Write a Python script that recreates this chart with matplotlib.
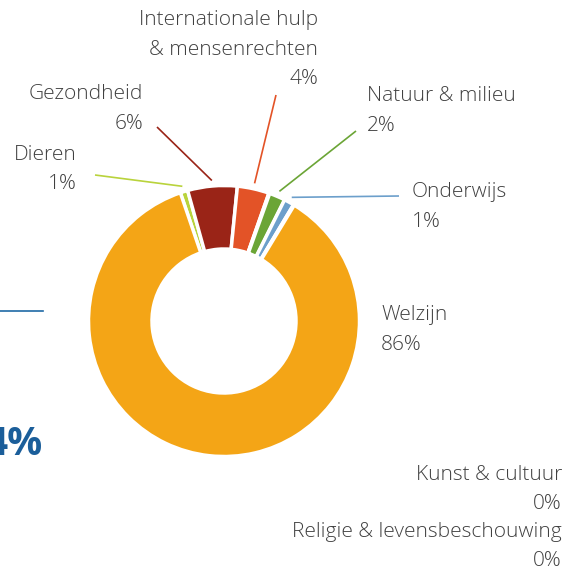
import numpy as np
import matplotlib
matplotlib.use("Agg")
import matplotlib.pyplot as plt

# data (alphabetical order, as in the source table)
categories = ["Dieren", "Gezondheid", "Internationale hulp & mensenrechten",
              "Kunst & cultuur", "Natuur & milieu", "Onderwijs",
              "Religie & levensbeschouwing", "Welzijn"]
shares = [0.9, 5.9, 3.8, 0.1, 1.9, 1.2, 0.1, 86.1]
colors = ["#b9d33c", "#9a2417", "#e35327", "#8c6bb1", "#6ba536", "#6c9fcb",
          "#c9c9c9", "#f4a516"]

# label layout (pixel coords, y from top): lines, x, baselines, ha, leader start
labels = {
    "Dieren": (["Dieren"], 77, [160, 189], "right", (95, 175)),
    "Gezondheid": (["Gezondheid"], 143, [99, 129], "right", (157, 127)),
    "Internationale hulp & mensenrechten": (["Internationale hulp", "& mensenrechten"], 318,
                                            [25, 55, 84], "right", (276, 95)),
    "Natuur & milieu": (["Natuur & milieu"], 367, [101, 131], "left", (356, 131)),
    "Onderwijs": (["Onderwijs"], 412, [197, 227], "left", (399, 196)),
    "Welzijn": (["Welzijn"], 381, [320, 350], "left", None),
    "Kunst & cultuur": (["Kunst & cultuur"], 562, [480, 509], "right", None),
    "Religie & levensbeschouwing": (["Religie & levensbeschouwing"], 562, [537, 566], "right", None),
}

W, H = 568, 571
cx, cy = 224, 321
r_out, r_in = 135.5, 72

plt.rcParams['font.family'] = ['Open Sans', 'DejaVu Sans']
txt_col = "#404040"

fig = plt.figure(figsize=(W / 100, H / 100), dpi=100)
ax = fig.add_axes([0, 0, 1, 1])

start = 108.8
wedges, _ = ax.pie(shares, colors=colors, startangle=start, counterclock=False,
                   center=(cx, H - cy), radius=r_out,
                   wedgeprops=dict(width=r_out - r_in, edgecolor="white", linewidth=2.5))

ax.set_xlim(0, W)
ax.set_ylim(0, H)
ax.set_aspect("equal")
ax.axis("off")

for w, name, c in zip(wedges, categories, colors):
    lines, x, bases, ha, lead = labels[name]
    pct = shares[categories.index(name)]
    for txt, b in zip(lines + [f"{pct:.0f}%"], bases):
        ax.text(x, H - b, txt, ha=ha, va="baseline", fontsize=15,
                fontweight="light", color=txt_col)
    if lead is not None:
        mid = np.deg2rad((w.theta1 + w.theta2) / 2)
        ex = cx + 141 * np.cos(mid)
        ey = (H - cy) + 141 * np.sin(mid)
        ax.plot([lead[0], ex], [H - lead[1], ey], color=c, lw=1.2,
                solid_capstyle="butt")

# fragments of the neighbouring panel
ax.plot([0, 43], [H - 311, H - 311], color="#1f6aa5", lw=1.2)
ax.text(43, H - 455, "4%", ha="right", va="baseline", fontsize=28,
        fontweight="bold", color="#1b5e9a")

fig.savefig("out.png", dpi=100)
